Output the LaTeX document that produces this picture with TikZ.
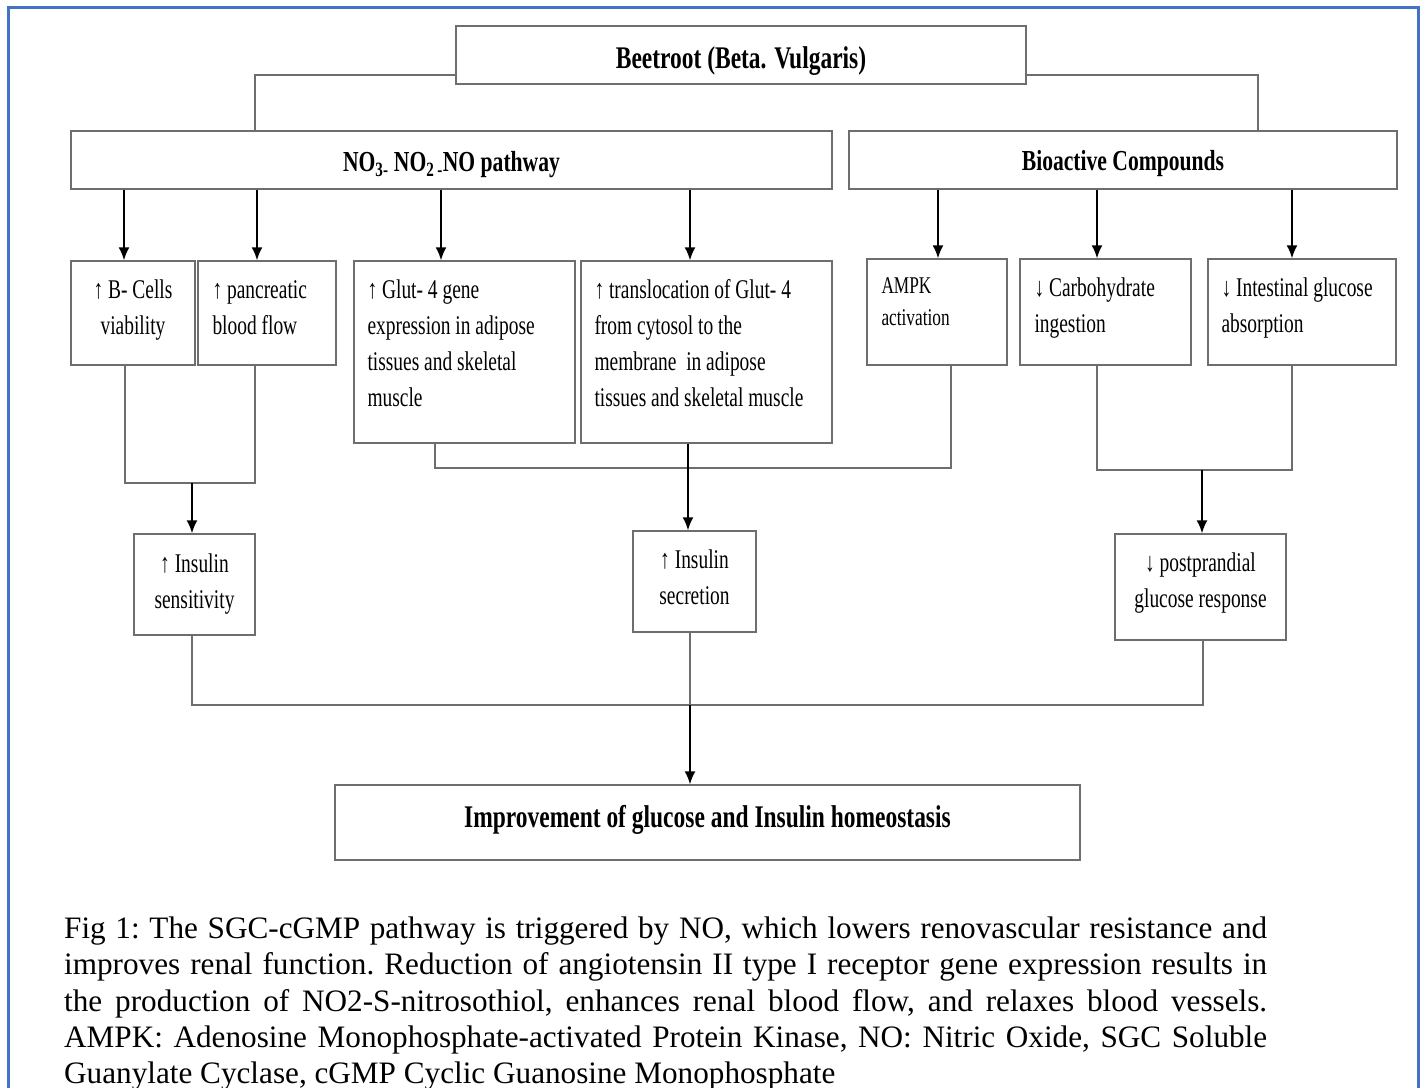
\documentclass[tikz,border=0pt]{standalone}
\usepackage{fontspec}
\setmainfont{Liberation Serif}
\newfontfamily\cond[FakeStretch=0.72]{Liberation Serif}
\newfontfamily\condb[FakeStretch=0.745]{Liberation Serif}
\usetikzlibrary{arrows.meta}
\definecolor{bord}{HTML}{4472C4}
\definecolor{boxline}{HTML}{6E6E6E}
\begin{document}
\begin{tikzpicture}[x=1pt,y=-1pt,
  box/.style={draw=boxline, line width=1.4pt, fill=white, inner sep=0pt},
  txt/.style={inner sep=0pt, font=\cond\fontsize{27}{36}\selectfont},
  ltxt/.style={txt, align=left, anchor=west},
  ctxt/.style={txt, align=center},
  htxt/.style={inner sep=0pt, align=center, font=\condb\bfseries\fontsize{31.5}{36}\selectfont},
  stxt/.style={htxt, font=\condb\bfseries\fontsize{29}{34}\selectfont},
  conn/.style={draw=boxline, line width=1.3pt},
  arr/.style={draw=black, line width=1.8pt, -{Latex[length=13pt,width=11pt]}}]
\fill[white] (0,0) rectangle (1424,1087);
\useasboundingbox (0,0) rectangle (1424,1087);
\draw[bord, line width=3pt] (8,1100) -- (8,7) -- (1418,7) -- (1418,1100);

% top level boxes
\node[box, minimum width=570pt, minimum height=58pt] (beet) at (741,55) {};
\node[box, minimum width=761pt, minimum height=58pt] (no3) at (451.5,160) {};
\node[box, minimum width=548pt, minimum height=58pt] (bio) at (1123,160) {};
\node[htxt] (beetT) at ([yshift=-6pt]beet.center) {Beetroot (Beta. Vulgaris)};
\node[stxt] (no3T) at ([yshift=-5pt]no3.center) {NO\textsubscript{3-} NO\textsubscript{2\,-}NO pathway};
\node[stxt] (bioT) at ([yshift=-4pt]bio.center) {Bioactive Compounds};

% second row boxes
\node[box, minimum width=124pt, minimum height=104pt] (bc) at (133,313) {};
\node[box, minimum width=138pt, minimum height=104pt] (pan) at (267,313) {};
\node[box, minimum width=221pt, minimum height=182pt] (glut) at (464.5,352) {};
\node[box, minimum width=251pt, minimum height=182pt] (trans) at (706.5,352) {};
\node[box, minimum width=140pt, minimum height=106pt] (ampk) at (937,312) {};
\node[box, minimum width=171pt, minimum height=106pt] (carb) at (1105.5,312) {};
\node[box, minimum width=188pt, minimum height=106pt] (intest) at (1302,312) {};

\node[ctxt] (bcT) at ([yshift=3pt]bc.center) {↑ B- Cells\\viability};
\node[ltxt] (panT) at ([xshift=15pt,yshift=5pt]pan.west) {↑ pancreatic\\blood flow};
\node[ltxt] (glutT) at ([xshift=14pt,yshift=9pt]glut.west) {↑ Glut- 4 gene\\expression in adipose\\tissues and skeletal\\muscle};
\node[ltxt] (transT) at ([xshift=14pt,yshift=9pt]trans.west) {↑ translocation of Glut- 4\\from cytosol to the\\membrane\ \ in adipose\\tissues and skeletal muscle};
\node[ltxt, font=\cond\fontsize{24}{32}\selectfont] (ampkT) at ([xshift=15pt,yshift=10pt]ampk.west) {AMPK\\activation};
\node[ltxt] (carbT) at ([xshift=15pt,yshift=4pt]carb.west) {↓ Carbohydrate\\ingestion};
\node[ltxt] (intestT) at ([xshift=14pt,yshift=4pt]intest.west) {↓ Intestinal glucose\\absorption};

% third row
\node[box, minimum width=121pt, minimum height=101pt] (ins) at (194.5,584.5) {};
\node[box, minimum width=123pt, minimum height=101pt] (sec) at (694.5,581.5) {};
\node[box, minimum width=171pt, minimum height=106pt] (post) at (1200.5,587) {};
\node[ctxt] (insT) at (ins.center) {↑ Insulin\\sensitivity};
\node[ctxt] (secT) at ([yshift=4pt]sec.center) {↑ Insulin\\secretion};
\node[ctxt] (postT) at ([yshift=4pt]post.center) {↓ postprandial\\glucose response};

% bottom
\node[box, minimum width=745pt, minimum height=75pt] (imp) at (707.5,822.5) {};
\node[htxt] (impT) at ([yshift=3pt]imp.center) {Improvement of glucose and Insulin homeostasis};

% junction coordinates
\coordinate (jL) at (255,75);
\coordinate (jR) at (1258,75);
\coordinate (j1a) at (125,483);
\coordinate (j1b) at (255,483);
\coordinate (j1m) at (192,483);
\coordinate (j2a) at (435,468);
\coordinate (j2b) at (951,468);
\coordinate (j3a) at (1097,470);
\coordinate (j3b) at (1292,470);
\coordinate (j3m) at (1202,470);
\coordinate (j4a) at (192,705);
\coordinate (j4b) at (1203,705);
\coordinate (j4m) at (690,705);

% top connectors
\draw[conn] (beet.west |- jL) -- (jL) -- (jL |- no3.north);
\draw[conn] (beet.east |- jR) -- (jR) -- (jR |- bio.north);

% arrows to second row
\draw[arr] (no3.south -| 124,0) -- (bc.north -| 124,0);
\draw[arr] (no3.south -| 257,0) -- (pan.north -| 257,0);
\draw[arr] (no3.south -| 441,0) -- (glut.north -| 441,0);
\draw[arr] (no3.south -| 690,0) -- (trans.north -| 690,0);
\draw[arr] (bio.south -| 938,0) -- (ampk.north -| 938,0);
\draw[arr] (bio.south -| 1097,0) -- (carb.north -| 1097,0);
\draw[arr] (bio.south -| 1292,0) -- (intest.north -| 1292,0);

% second to third row
\draw[conn] (bc.south -| j1a) -- (j1a) -- (j1b) -- (pan.south -| j1b);
\draw[arr] (j1m) -- (ins.north -| j1m);
\draw[conn] (glut.south -| j2a) -- (j2a) -- (j2b) -- (ampk.south -| j2b);
\draw[arr] (trans.south -| 688,0) -- (sec.north -| 688,0);
\draw[conn] (carb.south -| j3a) -- (j3a) -- (j3b) -- (intest.south -| j3b);
\draw[arr] (j3m) -- (post.north -| j3m);

% third row to bottom
\draw[conn] (ins.south -| j4a) -- (j4a) -- (j4b) -- (post.south -| j4b);
\draw[conn] (sec.south -| j4m) -- (j4m);
\draw[arr] (j4m) -- (imp.north -| j4m);

% caption
\node[anchor=north west, text width=1203pt, align=justify, inner sep=0pt,
  font=\fontsize{31.2}{36.4}\selectfont] (cap) at (64,916.5)
  {\frenchspacing\hyphenpenalty=10000 \exhyphenpenalty=10000 \tolerance=10000
  Fig 1: The SGC-cGMP pathway is triggered by NO, which lowers renovascular resistance and\linebreak
  improves renal function. Reduction of angiotensin II type I receptor gene expression results in\linebreak
  the production of NO2-S-nitrosothiol, enhances renal blood flow, and relaxes blood vessels.\linebreak
  AMPK: Adenosine Monophosphate-activated Protein Kinase, NO: Nitric Oxide, SGC Soluble\linebreak
  Guanylate Cyclase, cGMP Cyclic Guanosine Monophosphate};
\end{tikzpicture}
\end{document}
